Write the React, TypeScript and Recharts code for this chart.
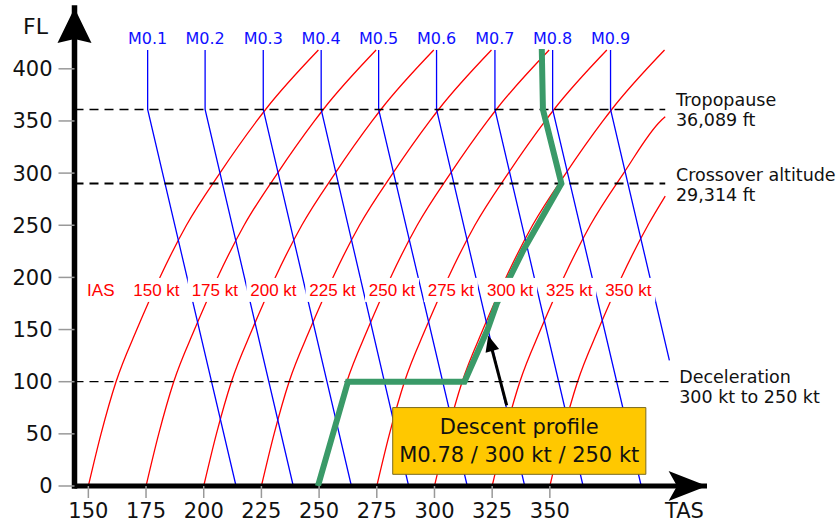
import React from 'react';
import {
  ComposedChart, Line, XAxis, YAxis,
  ReferenceLine, ReferenceDot, ReferenceArea
} from 'recharts';

const FONT = '"DejaVu Sans", sans-serif';
const FONT_IAS = '"Liberation Sans", Arial, sans-serif';

// red IAS curves: FL levels read along a curve and TAS minus IAS at each level
const curveFl = [0, 50, 100, 150, 200, 250, 300, 350, 361, 418];
const curveOffset = [0, 5.5, 12, 21, 31, 42.5, 57, 73, 76.8, 99.7];
const iasValues = [150, 175, 200, 225, 250, 275, 300, 325, 350];
// the last two curves run into the right edge (TAS 400)
const iasEndFl: { [k: number]: number } = { 325: 354, 350: 278 };
const iasLabels = ['IAS', '150 kt', '175 kt', '200 kt', '225 kt', '250 kt', '275 kt', '300 kt', '325 kt', '350 kt'];
const iasLabelTas = [155.4, 179.5, 204.8, 230.2, 255.8, 281.6, 307.1, 332.8, 358.4, 384];
const iasLabelFl = 188;

// blue Mach lines: vertical above the tropopause, slanted below
const machNames = ['M0.1', 'M0.2', 'M0.3', 'M0.4', 'M0.5', 'M0.6', 'M0.7', 'M0.8', 'M0.9'];
const machTasHigh = [175.7, 200.6, 225.8, 250.9, 275.8, 300.9, 326.2, 351.2, 376.3];
const machTasLow = [214, 238.8, 264, 288.8, 314.2, 339.1, 364.4, 389.6, 401.8];
const machLowFl = [0, 0, 0, 0, 0, 0, 0, 0, 120.5];
const machTopFl = 418;
const tropoFl = 361;
const crossoverFl = 290;
const decelFl = 100;

// green descent profile
const descentTas = [249.5, 262.5, 313, 323, 327, 338.5, 355, 347, 346.5];
const descentFl = [0, 100, 100, 150, 175, 226, 290, 361, 419];

// pointer to the profile and the yellow box
const arrowTail = { tas: 331.3, fl: 77.4 };
const arrowEnd = { tas: 324.7, fl: 133 };
const arrowTip = { tas: 323.3, fl: 144.4 };
const boxTas = [281.9, 391.6];
const boxFl = [11.2, 75.2];

const xTicks = [150, 175, 200, 225, 250, 275, 300, 325, 350];
const yTicks = [0, 50, 100, 150, 200, 250, 300, 350, 400];
const xDomain = [144, 418.1];
const yDomain = [0, 458.3];
const rightEdge = 400;

const RED = '#ff0000';
const BLUE = '#0000ff';
const GREEN = '#3a9a68';

const XArrow = (p: any) => (
  <g>
    <polygon
      points={`${p.cx},${p.cy} ${p.cx - 38.4},${p.cy - 15} ${p.cx - 30},${p.cy} ${p.cx - 38.4},${p.cy + 15}`}
      fill="#000"
    />
    <text x={p.cx - 42} y={p.cy + 32} fontSize={21} fontFamily={FONT} fill="#111">TAS</text>
  </g>
);

const YArrow = (p: any) => (
  <g>
    <polygon
      points={`${p.cx},${p.cy} ${p.cx + 17},${p.cy + 35} ${p.cx},${p.cy + 31} ${p.cx - 17},${p.cy + 35}`}
      fill="#000"
    />
    <text x={p.cx - 51.5} y={p.cy + 26} fontSize={22} fontFamily={FONT} fill="#111">FL</text>
  </g>
);

const PointerHead = (p: any) => {
  const ux = -0.254, uy = -0.967;
  const bx = p.cx - 16 * ux, by = p.cy - 16 * uy;
  const px = 0.967 * 7, py = -0.254 * 7;
  return (
    <polygon
      points={`${p.cx},${p.cy} ${bx + px},${by + py} ${bx - px},${by - py}`}
      fill="#000"
    />
  );
};

const sideNote = (lines: string[], dx: number, dy: number) => (p: any) => (
  <g>
    {lines.map((t, i) => (
      <text key={t} x={p.cx + dx} y={p.cy + dy + i * 20} fontSize={17.5} fontFamily={FONT} fill="#111">{t}</text>
    ))}
  </g>
);

const machLabel = (name: string) => (p: any) => (
  <text x={p.cx} y={p.cy - 5.7} fontSize={16} fontFamily={FONT} fill="#1010ff" textAnchor="middle">{name}</text>
);

const iasLabel = (name: string) => (p: any) => {
  const w = name === 'IAS' ? 34 : 54;
  return (
    <g>
      <rect x={p.cx - w / 2} y={p.cy - 12} width={w} height={24} fill="#fff" />
      <text x={p.cx} y={p.cy + 6} fontSize={17} fontFamily={FONT_IAS} fill={RED} textAnchor="middle">{name}</text>
    </g>
  );
};

const BoxText = (props: any) => {
  const vb = props.viewBox || {};
  const cx = vb.x + vb.width / 2;
  return (
    <g>
      <text x={cx} y={vb.y + 26} fontSize={21} fontFamily={FONT} fill="#111" textAnchor="middle">Descent profile</text>
      <text x={cx} y={vb.y + 54.4} fontSize={21} fontFamily={FONT} fill="#111" textAnchor="middle">M0.78 / 300 kt / 250 kt</text>
    </g>
  );
};

export default function App() {
  const redSeries = iasValues.map((ias) => {
    const pts = curveFl
      .map((fl, i) => ({ tas: ias + curveOffset[i], fl }))
      .filter((d) => d.tas <= rightEdge);
    if (iasEndFl[ias] !== undefined) pts.push({ tas: rightEdge, fl: iasEndFl[ias] });
    return { ias, pts };
  });

  const machSeries = machNames.map((name, i) => ({
    name,
    pts: [
      { tas: machTasHigh[i], fl: machTopFl },
      { tas: machTasHigh[i], fl: tropoFl },
      { tas: machTasLow[i], fl: machLowFl[i] },
    ],
  }));

  const descent = descentTas.map((tas, i) => ({ tas, fl: descentFl[i] }));
  const tickStyle = { fontSize: 21, fill: '#111', fontFamily: FONT };

  return (
    <div style={{ position: 'absolute', left: 0, top: 0, width: 840, height: 524, background: '#fff' }}>
      <ComposedChart width={840} height={524} margin={{ top: 8, right: 133, bottom: 0, left: 14.5 }}>
        <XAxis
          type="number" dataKey="tas" domain={xDomain} ticks={xTicks} allowDataOverflow interval={0}
          height={38} axisLine={{ stroke: '#000', strokeWidth: 5 }}
          tickLine={{ stroke: '#999', strokeWidth: 1.5 }} tickSize={12} tickMargin={5} tick={tickStyle}
        />
        <YAxis
          type="number" domain={yDomain} ticks={yTicks} allowDataOverflow interval={0}
          width={60} axisLine={{ stroke: '#000', strokeWidth: 5.5, strokeLinecap: 'square' }}
          tickLine={{ stroke: '#999', strokeWidth: 1.5 }} tickSize={16} tickMargin={6} tick={tickStyle}
        />

        {redSeries.map((s) => (
          <Line key={`ias-${s.ias}`} data={s.pts} dataKey="fl" type="monotone" stroke={RED} strokeWidth={1.3}
            dot={false} activeDot={false} isAnimationActive={false} zIndex={400} />
        ))}
        {machSeries.map((s) => (
          <Line key={s.name} data={s.pts} dataKey="fl" type="linear" stroke={BLUE} strokeWidth={1.3}
            dot={false} activeDot={false} isAnimationActive={false} zIndex={400} />
        ))}

        <ReferenceLine segment={[{ x: xDomain[0], y: tropoFl }, { x: rightEdge, y: tropoFl }]}
          stroke="#000" strokeWidth={1.5} strokeDasharray="9 6" ifOverflow="visible" zIndex={450} />
        <ReferenceLine segment={[{ x: xDomain[0], y: crossoverFl }, { x: rightEdge, y: crossoverFl }]}
          stroke="#000" strokeWidth={2} strokeDasharray="9 6" ifOverflow="visible" zIndex={450} />
        <ReferenceLine segment={[{ x: xDomain[0], y: decelFl }, { x: rightEdge + 1.5, y: decelFl }]}
          stroke="#000" strokeWidth={1.3} strokeDasharray="9 6" ifOverflow="visible" zIndex={450} />

        <Line data={descent} dataKey="fl" type="linear" stroke={GREEN} strokeWidth={6}
          dot={false} activeDot={false} isAnimationActive={false} zIndex={500} />

        <ReferenceArea x1={boxTas[0]} x2={boxTas[1]} y1={boxFl[0]} y2={boxFl[1]}
          fill="#ffc800" fillOpacity={1} stroke="#7a6a20" strokeWidth={1} ifOverflow="visible"
          label={BoxText} zIndex={600} />
        <ReferenceLine segment={[{ x: arrowTail.tas, y: arrowTail.fl }, { x: arrowEnd.tas, y: arrowEnd.fl }]}
          stroke="#000" strokeWidth={3} ifOverflow="visible" zIndex={650} />
        <ReferenceDot x={arrowTip.tas} y={arrowTip.fl} shape={PointerHead} ifOverflow="visible" zIndex={650} />

        {iasLabels.map((name, i) => (
          <ReferenceDot key={name} x={iasLabelTas[i]} y={iasLabelFl} shape={iasLabel(name)} ifOverflow="visible" zIndex={700} />
        ))}
        {machNames.map((name, i) => (
          <ReferenceDot key={`l-${name}`} x={machTasHigh[i]} y={machTopFl} shape={machLabel(name)} ifOverflow="visible" zIndex={700} />
        ))}

        <ReferenceDot x={rightEdge} y={tropoFl} shape={sideNote(['Tropopause', '36,089 ft'], 10.7, -3.5)} ifOverflow="visible" zIndex={700} />
        <ReferenceDot x={rightEdge} y={crossoverFl} shape={sideNote(['Crossover altitude', '29,314 ft'], 10.7, -2.5)} ifOverflow="visible" zIndex={700} />
        <ReferenceDot x={rightEdge} y={decelFl} shape={sideNote(['Deceleration', '300 kt to 250 kt'], 14, 1.6)} ifOverflow="visible" zIndex={700} />

        <ReferenceDot x={xDomain[1]} y={yDomain[0]} shape={XArrow} ifOverflow="visible" zIndex={800} />
        <ReferenceDot x={xDomain[0]} y={yDomain[1]} shape={YArrow} ifOverflow="visible" zIndex={800} />
      </ComposedChart>
    </div>
  );
}
